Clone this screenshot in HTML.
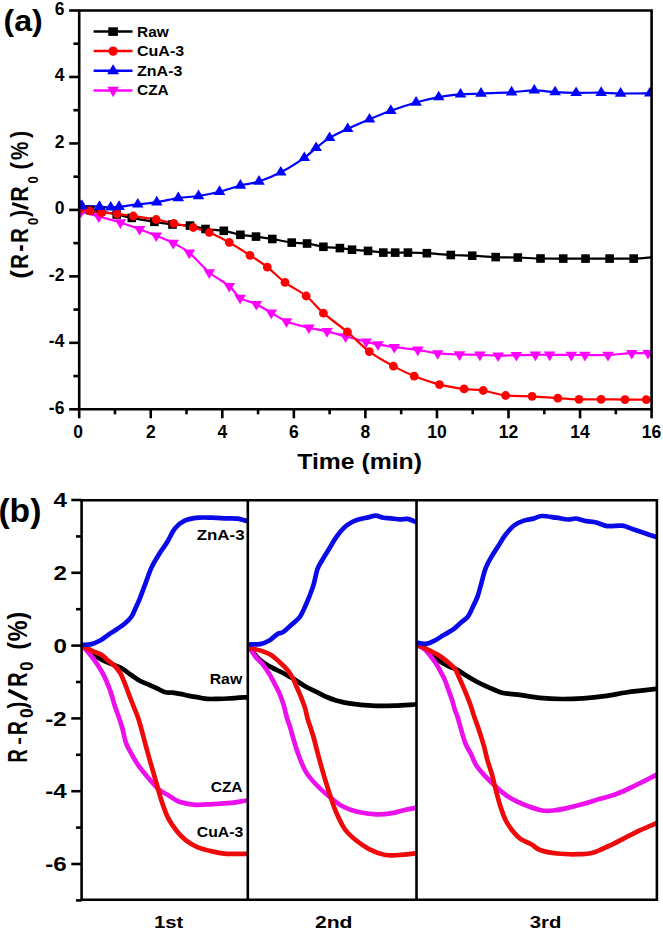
<!DOCTYPE html><html><head><meta charset="utf-8"><title>Sensor response</title><style>html,body{margin:0;padding:0;background:#fff;}body{width:663px;height:931px;overflow:hidden;font-family:"Liberation Sans",sans-serif;}svg{display:block;}</style></head><body>
<svg width="663" height="931" viewBox="0 0 663 931">
<rect width="663" height="931" fill="#fff"/>
<defs><clipPath id="ca"><rect x="79.2" y="2.5" width="572.4" height="406.8"/></clipPath>
<clipPath id="cb1"><rect x="81.6" y="500.3" width="166.2" height="399.5"/></clipPath>
<clipPath id="cb2"><rect x="247.8" y="500.3" width="168.7" height="399.5"/></clipPath>
<clipPath id="cb3"><rect x="416.5" y="500.3" width="240.4" height="399.5"/></clipPath></defs>
<g clip-path="url(#ca)" fill="none" stroke-width="2.2" stroke-linejoin="round" stroke-linecap="round">
<path d="M80,209 C81.67,209.17 86.5,209.58 90,210 C93.5,210.42 96.55,210.75 101,211.5 C105.45,212.25 111.57,213.43 116.7,214.5 C121.83,215.57 125.52,216.68 131.8,217.9 C138.08,219.12 147.62,220.7 154.4,221.8 C161.18,222.9 166.57,223.87 172.5,224.5 C178.43,225.13 184.5,224.85 190,225.6 C195.5,226.35 199.87,228.13 205.5,229 C211.13,229.87 217.98,229.83 223.8,230.8 C229.62,231.77 235.03,233.83 240.4,234.8 C245.77,235.77 250.68,235.9 256,236.6 C261.32,237.3 266.35,238 272.3,239 C278.25,240 285.9,241.85 291.7,242.6 C297.5,243.35 301.82,242.8 307.1,243.5 C312.38,244.2 317.93,246.03 323.4,246.8 C328.87,247.57 335.13,247.62 339.9,248.1 C344.67,248.58 347.32,249.23 352,249.7 C356.68,250.17 362.78,250.42 368,250.9 C373.22,251.38 378.77,252.32 383.3,252.6 C387.83,252.88 391.1,252.6 395.2,252.6 C399.3,252.6 402.62,252.5 407.9,252.6 C413.18,252.7 419.75,252.8 426.9,253.2 C434.05,253.6 443.25,254.58 450.8,255 C458.35,255.42 464.72,255.35 472.2,255.7 C479.68,256.05 488.1,256.8 495.7,257.1 C503.3,257.4 510.33,257.27 517.8,257.5 C525.27,257.73 532.93,258.32 540.5,258.5 C548.07,258.68 555.7,258.58 563.2,258.6 C570.7,258.62 577.77,258.6 585.5,258.6 C593.23,258.6 601.57,258.6 609.6,258.6 C617.63,258.6 626.8,258.82 633.7,258.6 C640.6,258.38 648.12,257.52 651,257.3" stroke="#000"/>
<path d="M81,211.5 C83.97,212.33 92.23,214.67 98.8,216.5 C105.37,218.33 113.6,220.38 120.4,222.5 C127.2,224.62 133.63,227 139.6,229.2 C145.57,231.4 150.6,233.4 156.2,235.7 C161.8,238 167.68,240.15 173.2,243 C178.72,245.85 183.28,247.88 189.3,252.8 C195.32,257.72 202.63,266.95 209.3,272.5 C215.97,278.05 224.17,281.87 229.3,286.1 C234.43,290.33 235.58,294.88 240.1,297.9 C244.62,300.92 251.2,301.72 256.4,304.2 C261.6,306.68 266.28,309.93 271.3,312.8 C276.32,315.67 280.23,318.92 286.5,321.4 C292.77,323.88 302.15,326.05 308.9,327.7 C315.65,329.35 320.88,329.83 327,331.3 C333.12,332.77 339.07,334.77 345.6,336.5 C352.13,338.23 360.8,340.38 366.2,341.7 C371.6,343.02 373.32,343.5 378,344.4 C382.68,345.3 387.67,346.2 394.3,347.1 C400.93,348 410.57,348.75 417.8,349.8 C425.03,350.85 430.75,352.62 437.7,353.4 C444.65,354.18 452.47,354.27 459.5,354.5 C466.53,354.73 473.47,354.6 479.9,354.8 C486.33,355 492.02,355.63 498.1,355.7 C504.18,355.77 510.18,355.35 516.4,355.2 C522.62,355.05 529.87,354.87 535.4,354.8 C540.93,354.73 543.62,354.77 549.6,354.8 C555.58,354.83 565.42,354.97 571.3,355 C577.18,355.03 578.78,355 584.9,355 C591.02,355 600.18,355.3 608,355 C615.82,354.7 625.13,353.5 631.8,353.2 C638.47,352.9 645.3,353.2 648,353.2" stroke="#ff00ff"/>
<path d="M80.5,209 C82.05,209.3 86.3,210.2 89.8,210.8 C93.3,211.4 96.97,212.1 101.5,212.6 C106.03,213.1 111.72,213.23 117,213.8 C122.28,214.37 126.67,215.05 133.2,216 C139.73,216.95 149.43,218.27 156.2,219.5 C162.97,220.73 167.63,222.07 173.8,223.4 C179.97,224.73 187.28,225.98 193.2,227.5 C199.12,229.02 203.28,230 209.3,232.5 C215.32,235 222.52,238.7 229.3,242.5 C236.08,246.3 243.67,251.2 250,255.3 C256.33,259.4 261.47,262.58 267.3,267.1 C273.13,271.62 278.52,277.58 285,282.4 C291.48,287.22 299.8,290.87 306.2,296 C312.6,301.13 316.52,307.2 323.4,313.2 C330.28,319.2 339.85,325.6 347.5,332 C355.15,338.4 361.65,345.92 369.3,351.6 C376.95,357.28 385.92,362.02 393.4,366.1 C400.88,370.18 406.52,373.02 414.2,376.1 C421.88,379.18 431.18,382.47 439.5,384.6 C447.82,386.73 456.82,387.92 464.1,388.9 C471.38,389.88 476.28,389.4 483.2,390.5 C490.12,391.6 497.45,394.53 505.6,395.5 C513.75,396.47 523.4,395.85 532.1,396.3 C540.8,396.75 549.98,397.7 557.8,398.2 C565.62,398.7 571.78,399.12 579,399.3 C586.22,399.48 593.43,399.25 601.1,399.3 C608.77,399.35 617.47,399.55 625,399.6 C632.53,399.65 642.75,399.6 646.3,399.6" stroke="#ff0000"/>
<path d="M80.3,206.2 C80.58,206.13 78.8,205.72 82,205.8 C85.2,205.88 94.72,206.45 99.5,206.7 C104.28,206.95 107.43,207.3 110.7,207.3 C113.97,207.3 114.58,207.2 119.1,206.7 C123.62,206.2 131.52,205.05 137.8,204.3 C144.08,203.55 150.05,203.25 156.8,202.2 C163.55,201.15 171.35,199.03 178.3,198 C185.25,196.97 191.63,197.05 198.5,196 C205.37,194.95 212.52,193.45 219.5,191.7 C226.48,189.95 233.82,187.2 240.4,185.5 C246.98,183.8 252.27,183.7 259,181.5 C265.73,179.3 273.25,176.25 280.8,172.3 C288.35,168.35 298.42,161.87 304.3,157.8 C310.18,153.73 311.88,151.22 316.1,147.9 C320.32,144.58 324.33,141.07 329.6,137.9 C334.87,134.73 341.05,132 347.7,128.9 C354.35,125.8 362.32,122.33 369.5,119.3 C376.68,116.27 383.03,113.5 390.8,110.7 C398.57,107.9 408.12,104.77 416.1,102.5 C424.08,100.23 431.3,98.45 438.7,97.1 C446.1,95.75 453.45,95 460.5,94.4 C467.55,93.8 472.48,93.87 481,93.5 C489.52,93.13 502.72,92.72 511.6,92.2 C520.48,91.68 527.05,90.42 534.3,90.4 C541.55,90.38 548.13,91.7 555.1,92.1 C562.07,92.5 568.42,92.7 576.1,92.8 C583.78,92.9 593.78,92.58 601.2,92.7 C608.62,92.82 612.5,93.4 620.6,93.5 C628.7,93.6 644.93,93.33 649.8,93.3" stroke="#0000ff"/>
</g>
<g clip-path="url(#ca)">
<rect x="75.7" y="204.7" width="8.6" height="8.6" fill="#000"/><rect x="85.7" y="205.7" width="8.6" height="8.6" fill="#000"/><rect x="96.7" y="207.2" width="8.6" height="8.6" fill="#000"/><rect x="112.4" y="210.2" width="8.6" height="8.6" fill="#000"/><rect x="127.5" y="213.6" width="8.6" height="8.6" fill="#000"/><rect x="150.1" y="217.5" width="8.6" height="8.6" fill="#000"/><rect x="168.2" y="220.2" width="8.6" height="8.6" fill="#000"/><rect x="185.7" y="221.3" width="8.6" height="8.6" fill="#000"/><rect x="201.2" y="224.7" width="8.6" height="8.6" fill="#000"/><rect x="219.5" y="226.5" width="8.6" height="8.6" fill="#000"/><rect x="236.1" y="230.5" width="8.6" height="8.6" fill="#000"/><rect x="251.7" y="232.3" width="8.6" height="8.6" fill="#000"/><rect x="268" y="234.7" width="8.6" height="8.6" fill="#000"/><rect x="287.4" y="238.3" width="8.6" height="8.6" fill="#000"/><rect x="302.8" y="239.2" width="8.6" height="8.6" fill="#000"/><rect x="319.1" y="242.5" width="8.6" height="8.6" fill="#000"/><rect x="335.6" y="243.8" width="8.6" height="8.6" fill="#000"/><rect x="347.7" y="245.4" width="8.6" height="8.6" fill="#000"/><rect x="363.7" y="246.6" width="8.6" height="8.6" fill="#000"/><rect x="379" y="248.3" width="8.6" height="8.6" fill="#000"/><rect x="390.9" y="248.3" width="8.6" height="8.6" fill="#000"/><rect x="403.6" y="248.3" width="8.6" height="8.6" fill="#000"/><rect x="422.6" y="248.9" width="8.6" height="8.6" fill="#000"/><rect x="446.5" y="250.7" width="8.6" height="8.6" fill="#000"/><rect x="467.9" y="251.4" width="8.6" height="8.6" fill="#000"/><rect x="491.4" y="252.8" width="8.6" height="8.6" fill="#000"/><rect x="513.5" y="253.2" width="8.6" height="8.6" fill="#000"/><rect x="536.2" y="254.2" width="8.6" height="8.6" fill="#000"/><rect x="558.9" y="254.3" width="8.6" height="8.6" fill="#000"/><rect x="581.2" y="254.3" width="8.6" height="8.6" fill="#000"/><rect x="605.3" y="254.3" width="8.6" height="8.6" fill="#000"/><rect x="629.4" y="254.3" width="8.6" height="8.6" fill="#000"/>
<path d="M81,217.9 L86.8,208.3 L75.2,208.3 Z" fill="#ff00ff"/><path d="M98.8,222.9 L104.6,213.3 L93,213.3 Z" fill="#ff00ff"/><path d="M120.4,228.9 L126.2,219.3 L114.6,219.3 Z" fill="#ff00ff"/><path d="M139.6,235.6 L145.4,226 L133.8,226 Z" fill="#ff00ff"/><path d="M156.2,242.1 L162,232.5 L150.4,232.5 Z" fill="#ff00ff"/><path d="M173.2,249.4 L179,239.8 L167.4,239.8 Z" fill="#ff00ff"/><path d="M189.3,259.2 L195.1,249.6 L183.5,249.6 Z" fill="#ff00ff"/><path d="M209.3,278.9 L215.1,269.3 L203.5,269.3 Z" fill="#ff00ff"/><path d="M229.3,292.5 L235.1,282.9 L223.5,282.9 Z" fill="#ff00ff"/><path d="M240.1,304.3 L245.9,294.7 L234.3,294.7 Z" fill="#ff00ff"/><path d="M256.4,310.6 L262.2,301 L250.6,301 Z" fill="#ff00ff"/><path d="M271.3,319.2 L277.1,309.6 L265.5,309.6 Z" fill="#ff00ff"/><path d="M286.5,327.8 L292.3,318.2 L280.7,318.2 Z" fill="#ff00ff"/><path d="M308.9,334.1 L314.7,324.5 L303.1,324.5 Z" fill="#ff00ff"/><path d="M327,337.7 L332.8,328.1 L321.2,328.1 Z" fill="#ff00ff"/><path d="M345.6,342.9 L351.4,333.3 L339.8,333.3 Z" fill="#ff00ff"/><path d="M366.2,348.1 L372,338.5 L360.4,338.5 Z" fill="#ff00ff"/><path d="M378,350.8 L383.8,341.2 L372.2,341.2 Z" fill="#ff00ff"/><path d="M394.3,353.5 L400.1,343.9 L388.5,343.9 Z" fill="#ff00ff"/><path d="M417.8,356.2 L423.6,346.6 L412,346.6 Z" fill="#ff00ff"/><path d="M437.7,359.8 L443.5,350.2 L431.9,350.2 Z" fill="#ff00ff"/><path d="M459.5,360.9 L465.3,351.3 L453.7,351.3 Z" fill="#ff00ff"/><path d="M479.9,361.2 L485.7,351.6 L474.1,351.6 Z" fill="#ff00ff"/><path d="M498.1,362.1 L503.9,352.5 L492.3,352.5 Z" fill="#ff00ff"/><path d="M516.4,361.6 L522.2,352 L510.6,352 Z" fill="#ff00ff"/><path d="M535.4,361.2 L541.2,351.6 L529.6,351.6 Z" fill="#ff00ff"/><path d="M549.6,361.2 L555.4,351.6 L543.8,351.6 Z" fill="#ff00ff"/><path d="M571.3,361.4 L577.1,351.8 L565.5,351.8 Z" fill="#ff00ff"/><path d="M584.9,361.4 L590.7,351.8 L579.1,351.8 Z" fill="#ff00ff"/><path d="M608,361.4 L613.8,351.8 L602.2,351.8 Z" fill="#ff00ff"/><path d="M631.8,359.6 L637.6,350 L626,350 Z" fill="#ff00ff"/><path d="M648,359.6 L653.8,350 L642.2,350 Z" fill="#ff00ff"/>
<circle cx="80.5" cy="209" r="4.4" fill="#ff0000"/><circle cx="89.8" cy="210.8" r="4.4" fill="#ff0000"/><circle cx="101.5" cy="212.6" r="4.4" fill="#ff0000"/><circle cx="117" cy="213.8" r="4.4" fill="#ff0000"/><circle cx="133.2" cy="216" r="4.4" fill="#ff0000"/><circle cx="156.2" cy="219.5" r="4.4" fill="#ff0000"/><circle cx="173.8" cy="223.4" r="4.4" fill="#ff0000"/><circle cx="193.2" cy="227.5" r="4.4" fill="#ff0000"/><circle cx="209.3" cy="232.5" r="4.4" fill="#ff0000"/><circle cx="229.3" cy="242.5" r="4.4" fill="#ff0000"/><circle cx="250" cy="255.3" r="4.4" fill="#ff0000"/><circle cx="267.3" cy="267.1" r="4.4" fill="#ff0000"/><circle cx="285" cy="282.4" r="4.4" fill="#ff0000"/><circle cx="306.2" cy="296" r="4.4" fill="#ff0000"/><circle cx="323.4" cy="313.2" r="4.4" fill="#ff0000"/><circle cx="347.5" cy="332" r="4.4" fill="#ff0000"/><circle cx="369.3" cy="351.6" r="4.4" fill="#ff0000"/><circle cx="393.4" cy="366.1" r="4.4" fill="#ff0000"/><circle cx="414.2" cy="376.1" r="4.4" fill="#ff0000"/><circle cx="439.5" cy="384.6" r="4.4" fill="#ff0000"/><circle cx="464.1" cy="388.9" r="4.4" fill="#ff0000"/><circle cx="483.2" cy="390.5" r="4.4" fill="#ff0000"/><circle cx="505.6" cy="395.5" r="4.4" fill="#ff0000"/><circle cx="532.1" cy="396.3" r="4.4" fill="#ff0000"/><circle cx="557.8" cy="398.2" r="4.4" fill="#ff0000"/><circle cx="579" cy="399.3" r="4.4" fill="#ff0000"/><circle cx="601.1" cy="399.3" r="4.4" fill="#ff0000"/><circle cx="625" cy="399.6" r="4.4" fill="#ff0000"/><circle cx="646.3" cy="399.6" r="4.4" fill="#ff0000"/>
<path d="M80.3,199.8 L86.1,209.4 L74.5,209.4 Z" fill="#0000ff"/><path d="M82,199.4 L87.8,209 L76.2,209 Z" fill="#0000ff"/><path d="M99.5,200.3 L105.3,209.9 L93.7,209.9 Z" fill="#0000ff"/><path d="M110.7,200.9 L116.5,210.5 L104.9,210.5 Z" fill="#0000ff"/><path d="M119.1,200.3 L124.9,209.9 L113.3,209.9 Z" fill="#0000ff"/><path d="M137.8,197.9 L143.6,207.5 L132,207.5 Z" fill="#0000ff"/><path d="M156.8,195.8 L162.6,205.4 L151,205.4 Z" fill="#0000ff"/><path d="M178.3,191.6 L184.1,201.2 L172.5,201.2 Z" fill="#0000ff"/><path d="M198.5,189.6 L204.3,199.2 L192.7,199.2 Z" fill="#0000ff"/><path d="M219.5,185.3 L225.3,194.9 L213.7,194.9 Z" fill="#0000ff"/><path d="M240.4,179.1 L246.2,188.7 L234.6,188.7 Z" fill="#0000ff"/><path d="M259,175.1 L264.8,184.7 L253.2,184.7 Z" fill="#0000ff"/><path d="M280.8,165.9 L286.6,175.5 L275,175.5 Z" fill="#0000ff"/><path d="M304.3,151.4 L310.1,161 L298.5,161 Z" fill="#0000ff"/><path d="M316.1,141.5 L321.9,151.1 L310.3,151.1 Z" fill="#0000ff"/><path d="M329.6,131.5 L335.4,141.1 L323.8,141.1 Z" fill="#0000ff"/><path d="M347.7,122.5 L353.5,132.1 L341.9,132.1 Z" fill="#0000ff"/><path d="M369.5,112.9 L375.3,122.5 L363.7,122.5 Z" fill="#0000ff"/><path d="M390.8,104.3 L396.6,113.9 L385,113.9 Z" fill="#0000ff"/><path d="M416.1,96.1 L421.9,105.7 L410.3,105.7 Z" fill="#0000ff"/><path d="M438.7,90.7 L444.5,100.3 L432.9,100.3 Z" fill="#0000ff"/><path d="M460.5,88 L466.3,97.6 L454.7,97.6 Z" fill="#0000ff"/><path d="M481,87.1 L486.8,96.7 L475.2,96.7 Z" fill="#0000ff"/><path d="M511.6,85.8 L517.4,95.4 L505.8,95.4 Z" fill="#0000ff"/><path d="M534.3,84 L540.1,93.6 L528.5,93.6 Z" fill="#0000ff"/><path d="M555.1,85.7 L560.9,95.3 L549.3,95.3 Z" fill="#0000ff"/><path d="M576.1,86.4 L581.9,96 L570.3,96 Z" fill="#0000ff"/><path d="M601.2,86.3 L607,95.9 L595.4,95.9 Z" fill="#0000ff"/><path d="M620.6,87.1 L626.4,96.7 L614.8,96.7 Z" fill="#0000ff"/><path d="M649.8,86.9 L655.6,96.5 L644,96.5 Z" fill="#0000ff"/>
</g>
<g stroke="#000" stroke-width="2.6" fill="none" stroke-linecap="butt">
<path d="M79.2,10.5 H651.6 V409.3 H79.2 Z"/>
<path d="M69.2,409.3 H79.2"/>
<path d="M73.4,376.07 H79.2"/>
<path d="M69.2,342.83 H79.2"/>
<path d="M73.4,309.6 H79.2"/>
<path d="M69.2,276.37 H79.2"/>
<path d="M73.4,243.13 H79.2"/>
<path d="M69.2,209.9 H79.2"/>
<path d="M73.4,176.67 H79.2"/>
<path d="M69.2,143.43 H79.2"/>
<path d="M73.4,110.2 H79.2"/>
<path d="M69.2,76.97 H79.2"/>
<path d="M73.4,43.73 H79.2"/>
<path d="M69.2,10.5 H79.2"/>
<path d="M79.2,409.3 V418.3"/>
<path d="M114.97,409.3 V414.3"/>
<path d="M150.75,409.3 V418.3"/>
<path d="M186.52,409.3 V414.3"/>
<path d="M222.3,409.3 V418.3"/>
<path d="M258.07,409.3 V414.3"/>
<path d="M293.85,409.3 V418.3"/>
<path d="M329.62,409.3 V414.3"/>
<path d="M365.4,409.3 V418.3"/>
<path d="M401.17,409.3 V414.3"/>
<path d="M436.95,409.3 V418.3"/>
<path d="M472.72,409.3 V414.3"/>
<path d="M508.5,409.3 V418.3"/>
<path d="M544.27,409.3 V414.3"/>
<path d="M580.05,409.3 V418.3"/>
<path d="M615.83,409.3 V414.3"/>
<path d="M651.6,409.3 V418.3"/>
</g>
<text transform="translate(64.4 413.5)" font-size="17.5" text-anchor="end" fill="#000" font-family="Liberation Sans, sans-serif" font-weight="bold">-6</text>
<text transform="translate(64.4 347.03)" font-size="17.5" text-anchor="end" fill="#000" font-family="Liberation Sans, sans-serif" font-weight="bold">-4</text>
<text transform="translate(64.4 280.57)" font-size="17.5" text-anchor="end" fill="#000" font-family="Liberation Sans, sans-serif" font-weight="bold">-2</text>
<text transform="translate(64.4 214.1)" font-size="17.5" text-anchor="end" fill="#000" font-family="Liberation Sans, sans-serif" font-weight="bold">0</text>
<text transform="translate(64.4 147.63)" font-size="17.5" text-anchor="end" fill="#000" font-family="Liberation Sans, sans-serif" font-weight="bold">2</text>
<text transform="translate(64.4 81.17)" font-size="17.5" text-anchor="end" fill="#000" font-family="Liberation Sans, sans-serif" font-weight="bold">4</text>
<text transform="translate(64.4 14.7)" font-size="17.5" text-anchor="end" fill="#000" font-family="Liberation Sans, sans-serif" font-weight="bold">6</text>
<text transform="translate(78 437.6)" font-size="17.5" text-anchor="middle" fill="#000" font-family="Liberation Sans, sans-serif" font-weight="bold">0</text>
<text transform="translate(150.75 437.6)" font-size="17.5" text-anchor="middle" fill="#000" font-family="Liberation Sans, sans-serif" font-weight="bold">2</text>
<text transform="translate(222.3 437.6)" font-size="17.5" text-anchor="middle" fill="#000" font-family="Liberation Sans, sans-serif" font-weight="bold">4</text>
<text transform="translate(293.85 437.6)" font-size="17.5" text-anchor="middle" fill="#000" font-family="Liberation Sans, sans-serif" font-weight="bold">6</text>
<text transform="translate(365.4 437.6)" font-size="17.5" text-anchor="middle" fill="#000" font-family="Liberation Sans, sans-serif" font-weight="bold">8</text>
<text transform="translate(436.95 437.6)" font-size="17.5" text-anchor="middle" fill="#000" font-family="Liberation Sans, sans-serif" font-weight="bold">10</text>
<text transform="translate(508.5 437.6)" font-size="17.5" text-anchor="middle" fill="#000" font-family="Liberation Sans, sans-serif" font-weight="bold">12</text>
<text transform="translate(580.05 437.6)" font-size="17.5" text-anchor="middle" fill="#000" font-family="Liberation Sans, sans-serif" font-weight="bold">14</text>
<text transform="translate(651.6 437.6)" font-size="17.5" text-anchor="middle" fill="#000" font-family="Liberation Sans, sans-serif" font-weight="bold">16</text>
<text transform="translate(359.6 469.2) scale(1.1 1)" font-size="22.5" text-anchor="middle" fill="#000" font-family="Liberation Sans, sans-serif" font-weight="bold">Time (min)</text>
<text transform="translate(0 277.5) rotate(-90) translate(-1.31 27.7) scale(0.2624 0.2358)" font-size="100" font-family="Liberation Sans, sans-serif" font-weight="bold">(</text><text transform="translate(0 277.5) rotate(-90) translate(8.84 28.1) scale(0.2035 0.2340)" font-size="100" font-family="Liberation Sans, sans-serif" font-weight="bold">R</text><text transform="translate(0 277.5) rotate(-90) translate(25.64 28.24) scale(0.2205 0.2521)" font-size="100" font-family="Liberation Sans, sans-serif" font-weight="bold">-</text><text transform="translate(0 277.5) rotate(-90) translate(34.74 28.1) scale(0.2035 0.2340)" font-size="100" font-family="Liberation Sans, sans-serif" font-weight="bold">R</text><text transform="translate(0 277.5) rotate(-90) translate(52.48 38.35) scale(0.1305 0.1540)" font-size="100" font-family="Liberation Sans, sans-serif" font-weight="bold">0</text><text transform="translate(0 277.5) rotate(-90) translate(60.48 27.7) scale(0.2128 0.2358)" font-size="100" font-family="Liberation Sans, sans-serif" font-weight="bold">)</text><text transform="translate(0 277.5) rotate(-90) translate(75.77 28.1) scale(0.2129 0.2340)" font-size="100" font-family="Liberation Sans, sans-serif" font-weight="bold">R</text><text transform="translate(0 277.5) rotate(-90) translate(93.97 38.35) scale(0.1326 0.1540)" font-size="100" font-family="Liberation Sans, sans-serif" font-weight="bold">0</text><text transform="translate(0 277.5) rotate(-90) translate(107.85 27.7) scale(0.2305 0.2358)" font-size="100" font-family="Liberation Sans, sans-serif" font-weight="bold">(</text><text transform="translate(0 277.5) rotate(-90) translate(117.38 28.2) scale(0.2064 0.2443)" font-size="100" font-family="Liberation Sans, sans-serif" font-weight="bold">%</text><text transform="translate(0 277.5) rotate(-90) translate(139.58 27.7) scale(0.2163 0.2358)" font-size="100" font-family="Liberation Sans, sans-serif" font-weight="bold">)</text>
<text transform="translate(3.6 31.4) scale(1.07 1)" font-size="30" text-anchor="start" fill="#000" font-family="Liberation Sans, sans-serif" font-weight="bold">(a)</text>
<path d="M93.6,31.6 H132.5" stroke="#000" stroke-width="2.5"/>
<rect x="108.3" y="27.3" width="9.6" height="8.6" fill="#000"/>
<text transform="translate(137 36.5) scale(1.03 1)" font-size="15" text-anchor="start" fill="#000" font-family="Liberation Sans, sans-serif" font-weight="bold">Raw</text>
<path d="M93.6,51.1 H132.5" stroke="#ff0000" stroke-width="2.5"/>
<circle cx="113.1" cy="51.1" r="4.7" fill="#ff0000"/>
<text transform="translate(137 56) scale(1.07 1)" font-size="15" text-anchor="start" fill="#000" font-family="Liberation Sans, sans-serif" font-weight="bold">CuA-3</text>
<path d="M93.6,70.8 H132.5" stroke="#0000ff" stroke-width="2.5"/>
<path d="M113.1,64.2 L119.1,74.2 L107.1,74.2 Z" fill="#0000ff"/>
<text transform="translate(137 75.7) scale(1.07 1)" font-size="15" text-anchor="start" fill="#000" font-family="Liberation Sans, sans-serif" font-weight="bold">ZnA-3</text>
<path d="M93.6,90.4 H132.5" stroke="#ff00ff" stroke-width="2.5"/>
<path d="M113.1,97.2 L118.9,86.8 L107.3,86.8 Z" fill="#ff00ff"/>
<text transform="translate(137 95.3) scale(1.03 1)" font-size="15" text-anchor="start" fill="#000" font-family="Liberation Sans, sans-serif" font-weight="bold">CZA</text>
<g clip-path="url(#cb1)" fill="none" stroke-width="4.7" stroke-linejoin="round" stroke-linecap="round">
<path d="M81.5,645.5 C81.93,645.72 82.08,645.23 84.1,646.8 C86.12,648.37 90.43,652.63 93.6,654.9 C96.77,657.17 99.93,658.82 103.1,660.4 C106.27,661.98 109.43,663.05 112.6,664.4 C115.77,665.75 118.93,666.68 122.1,668.5 C125.27,670.32 128.67,673.27 131.6,675.3 C134.53,677.33 136.77,679.12 139.7,680.7 C142.63,682.28 146.23,683.47 149.2,684.8 C152.17,686.13 154.85,687.47 157.5,688.7 C160.15,689.93 162.58,691.55 165.1,692.2 C167.62,692.85 170.08,692.32 172.6,692.6 C175.12,692.88 177.43,693.35 180.2,693.9 C182.97,694.45 186.18,695.32 189.2,695.9 C192.22,696.48 195.28,696.9 198.3,697.4 C201.32,697.9 204.03,698.65 207.3,698.9 C210.57,699.15 214.38,698.97 217.9,698.9 C221.42,698.83 224.88,698.7 228.4,698.5 C231.92,698.3 236.1,697.88 239,697.7 C241.9,697.52 243.97,697.48 245.8,697.4 C247.63,697.32 249.3,697.23 250,697.2" stroke="#000"/>
<path d="M81.5,645.5 C81.7,645.6 81.6,644.98 82.7,646.1 C83.8,647.22 86.28,650.05 88.1,652.2 C89.92,654.35 91.78,656.52 93.6,659 C95.42,661.48 97.2,664.17 99,667.1 C100.8,670.03 102.82,673.42 104.4,676.6 C105.98,679.78 107.25,683.02 108.5,686.2 C109.75,689.38 110.88,692.53 111.9,695.7 C112.92,698.87 113.58,701.98 114.6,705.2 C115.62,708.42 116.72,711.2 118,715 C119.28,718.8 120.97,723.33 122.3,728 C123.63,732.67 124.43,738.62 126,743 C127.57,747.38 129.62,750.53 131.7,754.3 C133.78,758.07 135.87,761.83 138.5,765.6 C141.13,769.37 144.12,772.93 147.5,776.9 C150.88,780.87 155.4,786.38 158.8,789.4 C162.2,792.42 164.5,792.93 167.9,795 C171.3,797.07 174.68,800.17 179.2,801.8 C183.72,803.43 189.35,804.42 195,804.8 C200.65,805.18 207.07,804.42 213.1,804.1 C219.13,803.78 225.92,803.47 231.2,802.9 C236.48,802.33 241.67,801.18 244.8,800.7 C247.93,800.22 249.13,800.12 250,800" stroke="#ec10ec"/>
<path d="M81.5,645.5 C81.93,645.72 82.32,645.9 84.1,646.8 C85.88,647.7 89.27,649.55 92.2,650.9 C95.13,652.25 99.22,653.43 101.7,654.9 C104.18,656.37 104.83,657.77 107.1,659.7 C109.37,661.63 113.03,664.13 115.3,666.5 C117.57,668.87 119.12,671.08 120.7,673.9 C122.28,676.72 123.43,680 124.8,683.4 C126.17,686.8 127.43,690.45 128.9,694.3 C130.37,698.15 132.02,702.43 133.6,706.5 C135.18,710.57 136.83,713.95 138.4,718.7 C139.97,723.45 141.48,729.45 143,735 C144.52,740.55 146,746.52 147.5,752 C149,757.48 150.48,762.62 152,767.9 C153.52,773.18 155.08,778.43 156.6,783.7 C158.12,788.97 159.22,793.85 161.1,799.5 C162.98,805.15 165.27,812.32 167.9,817.6 C170.53,822.88 173.88,827.42 176.9,831.2 C179.92,834.98 182.6,837.65 186,840.3 C189.4,842.95 192.78,845.22 197.3,847.1 C201.82,848.98 208.2,850.48 213.1,851.6 C218,852.72 221.42,853.43 226.7,853.8 C231.98,854.17 240.92,853.8 244.8,853.8 C248.68,853.8 249.13,853.8 250,853.8" stroke="#ee0a0a"/>
<path d="M81.5,644.8 C83.17,644.68 88.32,644.85 91.5,644.1 C94.68,643.35 97.83,641.82 100.6,640.3 C103.37,638.78 105.35,636.88 108.1,635 C110.85,633.12 114.35,630.87 117.1,629 C119.85,627.13 122.18,625.88 124.6,623.8 C127.02,621.72 129.72,619.27 131.6,616.5 C133.48,613.73 134.57,610.1 135.9,607.2 C137.23,604.3 138,603.07 139.6,599.1 C141.2,595.13 143.53,588.63 145.5,583.4 C147.47,578.17 149.12,572.6 151.4,567.7 C153.68,562.8 156.58,558.23 159.2,554 C161.82,549.77 164.48,546.55 167.1,542.3 C169.72,538.05 171.97,532.1 174.9,528.5 C177.83,524.9 180.78,522.5 184.7,520.7 C188.62,518.9 193.82,518.2 198.4,517.7 C202.98,517.2 207.62,517.6 212.2,517.7 C216.78,517.8 221.67,518.13 225.9,518.3 C230.13,518.47 234.33,518.32 237.6,518.7 C240.87,519.08 243.43,520.12 245.5,520.6 C247.57,521.08 249.25,521.43 250,521.6" stroke="#0a0ae8"/>
</g>
<g clip-path="url(#cb2)" fill="none" stroke-width="4.7" stroke-linejoin="round" stroke-linecap="round">
<path d="M247,647.5 C247.62,647.83 248.72,647.58 250.7,649.5 C252.68,651.42 255.95,656.28 258.9,659 C261.85,661.72 265.23,663.88 268.4,665.8 C271.57,667.72 274.97,669.03 277.9,670.5 C280.83,671.97 283.07,673.02 286,674.6 C288.93,676.18 292.33,678.07 295.5,680 C298.67,681.93 301.6,684.27 305,686.2 C308.4,688.13 312.28,689.8 315.9,691.6 C319.52,693.4 323.32,695.53 326.7,697 C330.08,698.47 332.45,699.33 336.2,700.4 C339.95,701.47 343.27,702.52 349.2,703.4 C355.13,704.28 364.27,705.32 371.8,705.7 C379.33,706.08 387.23,705.9 394.4,705.7 C401.57,705.5 410.7,704.73 414.8,704.5 C418.9,704.27 418.3,704.33 419,704.3" stroke="#000"/>
<path d="M247,648 C247.62,648.25 249.18,647.9 250.7,649.5 C252.22,651.1 254.07,655.12 256.1,657.6 C258.13,660.08 260.85,661.9 262.9,664.4 C264.95,666.9 266.58,669.65 268.4,672.6 C270.22,675.55 272,678.72 273.8,682.1 C275.6,685.48 277.62,689.28 279.2,692.9 C280.78,696.52 282,699.62 283.3,703.8 C284.6,707.98 285.87,714.13 287,718 C288.13,721.87 289.17,724 290.1,727 C291.03,730 291.23,731.45 292.6,736 C293.97,740.55 296.03,748.23 298.3,754.3 C300.57,760.37 303,767.12 306.2,772.4 C309.4,777.68 313.73,782.03 317.5,786 C321.27,789.97 324.65,792.82 328.8,796.2 C332.95,799.58 337.5,803.67 342.4,806.3 C347.3,808.93 352.55,810.67 358.2,812 C363.85,813.33 370.63,814.12 376.3,814.3 C381.97,814.48 387.3,813.87 392.2,813.1 C397.1,812.33 401.93,810.53 405.7,809.7 C409.47,808.87 412.58,808.47 414.8,808.1 C417.02,807.73 418.3,807.6 419,807.5" stroke="#ec10ec"/>
<path d="M247,647.5 C248.07,647.72 250.97,648.23 253.4,648.8 C255.83,649.37 258.65,649.88 261.6,650.9 C264.55,651.92 268.17,653.1 271.1,654.9 C274.03,656.7 276.48,659.2 279.2,661.7 C281.92,664.2 285.13,667.18 287.4,669.9 C289.67,672.62 291.22,675.07 292.8,678 C294.38,680.93 295.53,684.33 296.9,687.5 C298.27,690.67 299.65,693.6 301,697 C302.35,700.4 303.88,704.23 305,707.9 C306.12,711.57 306.7,715.48 307.7,719 C308.7,722.52 310.03,726 311,729 C311.97,732 312.23,732.4 313.5,737 C314.77,741.6 316.8,749.95 318.6,756.6 C320.4,763.25 322.4,770.5 324.3,776.9 C326.2,783.3 328.12,789.33 330,795 C331.88,800.67 333.15,805.23 335.6,810.9 C338.05,816.57 341.3,824.1 344.7,829 C348.1,833.9 351.87,836.92 356,840.3 C360.13,843.68 364.6,846.85 369.5,849.3 C374.4,851.75 380.48,854.05 385.4,855 C390.32,855.95 394.1,855.27 399,855 C403.9,854.73 411.47,853.73 414.8,853.4 C418.13,853.07 418.3,853.07 419,853" stroke="#ee0a0a"/>
<path d="M247,644.6 C247.35,644.57 246.93,644.48 249.1,644.4 C251.27,644.32 256.62,644.75 260,644.1 C263.38,643.45 266.55,642.15 269.4,640.5 C272.25,638.85 274.77,635.63 277.1,634.2 C279.43,632.77 281.05,633.45 283.4,631.9 C285.75,630.35 288.48,627.37 291.2,624.9 C293.92,622.43 297.37,620.22 299.7,617.1 C302.03,613.98 303.52,609.83 305.2,606.2 C306.88,602.57 308.38,598.93 309.8,595.3 C311.22,591.67 312.43,588.75 313.7,584.4 C314.97,580.05 316.02,573.18 317.4,569.2 C318.78,565.22 320.07,563.87 322,560.5 C323.93,557.13 326.57,552.97 329,549 C331.43,545.03 334.08,540.27 336.6,536.7 C339.12,533.13 341.58,530 344.1,527.6 C346.62,525.2 349.18,523.68 351.7,522.3 C354.22,520.92 356.43,520.12 359.2,519.3 C361.97,518.48 365.53,518.02 368.3,517.4 C371.07,516.78 373.3,515.53 375.8,515.6 C378.3,515.67 380.78,517.35 383.3,517.8 C385.82,518.25 388.13,518.05 390.9,518.3 C393.67,518.55 397.13,519.2 399.9,519.3 C402.67,519.4 405.1,518.57 407.5,518.9 C409.9,519.23 412.38,520.62 414.3,521.3 C416.22,521.98 418.22,522.72 419,523" stroke="#0a0ae8"/>
</g>
<g clip-path="url(#cb3)" fill="none" stroke-width="4.7" stroke-linejoin="round" stroke-linecap="round">
<path d="M416,645 C417.02,645.32 419.72,645.47 422.1,646.9 C424.48,648.33 427.58,651.35 430.3,653.6 C433.02,655.85 435.47,658.35 438.4,660.4 C441.33,662.45 444.73,664.32 447.9,665.9 C451.07,667.48 454.23,668.22 457.4,669.9 C460.57,671.58 463.73,674.07 466.9,676 C470.07,677.93 473.23,679.8 476.4,681.5 C479.57,683.2 482.73,684.73 485.9,686.2 C489.07,687.67 492.57,689.17 495.4,690.3 C498.23,691.43 499.13,692.28 502.9,693 C506.67,693.72 511.82,693.78 518,694.6 C524.18,695.42 532.75,697.17 540,697.9 C547.25,698.63 554.35,698.93 561.5,699 C568.65,699.07 575.75,698.77 582.9,698.3 C590.05,697.83 597.23,697.17 604.4,696.2 C611.57,695.23 619.47,693.47 625.9,692.5 C632.33,691.53 638,691 643,690.4 C648,689.8 653.07,689.22 655.9,688.9 C658.73,688.58 659.32,688.57 660,688.5" stroke="#000"/>
<path d="M416,645 C416.57,645.2 417.92,645.43 419.4,646.2 C420.88,646.97 423.08,648.02 424.9,649.6 C426.72,651.18 428.5,653.45 430.3,655.7 C432.1,657.95 433.9,660.28 435.7,663.1 C437.5,665.92 439.52,669.65 441.1,672.6 C442.68,675.55 443.95,677.85 445.2,680.8 C446.45,683.75 447.47,687.13 448.6,690.3 C449.73,693.47 450.98,696.63 452,699.8 C453.02,702.97 453.77,706.43 454.7,709.3 C455.63,712.17 456.55,713.68 457.6,717 C458.65,720.32 459.67,724.73 461,729.2 C462.33,733.67 463.93,739.67 465.6,743.8 C467.27,747.93 469.18,750.33 471,754 C472.82,757.67 474.05,762.02 476.5,765.8 C478.95,769.58 482.65,773.37 485.7,776.7 C488.75,780.03 491.45,782.75 494.8,785.8 C498.15,788.85 502.15,792.4 505.8,795 C509.45,797.6 512.75,799.43 516.7,801.4 C520.65,803.37 525.23,805.28 529.5,806.8 C533.77,808.32 538.35,809.88 542.3,810.5 C546.25,811.12 549.28,810.85 553.2,810.5 C557.12,810.15 560.85,809.47 565.8,808.4 C570.75,807.33 577.18,805.7 582.9,804.1 C588.62,802.5 594.73,800.4 600.1,798.8 C605.47,797.2 610.1,796.3 615.1,794.5 C620.1,792.7 625.45,790.15 630.1,788 C634.75,785.85 638.7,783.73 643,781.6 C647.3,779.47 653.07,776.6 655.9,775.2 C658.73,773.8 659.32,773.53 660,773.2" stroke="#ec10ec"/>
<path d="M416,645 C417.02,645.32 419.72,645.92 422.1,646.9 C424.48,647.88 427.58,649.55 430.3,650.9 C433.02,652.25 435.68,653.3 438.4,655 C441.12,656.7 443.88,658.83 446.6,661.1 C449.32,663.37 452.67,666 454.7,668.6 C456.73,671.2 457.43,673.77 458.8,676.7 C460.17,679.63 461.55,683.03 462.9,686.2 C464.25,689.37 465.55,692.3 466.9,695.7 C468.25,699.1 469.82,703.22 471,706.6 C472.18,709.98 472.62,711.93 474,716 C475.38,720.07 477.67,726.05 479.3,731 C480.93,735.95 482.43,740.82 483.8,745.7 C485.17,750.58 486.12,755.43 487.5,760.3 C488.88,765.17 490.73,770.03 492.1,774.9 C493.47,779.77 494.33,784.33 495.7,789.5 C497.07,794.67 498.62,800.73 500.3,805.9 C501.98,811.07 503.67,816.23 505.8,820.5 C507.93,824.77 510.67,828.45 513.1,831.5 C515.53,834.55 517.37,836.67 520.4,838.8 C523.43,840.93 528.03,842.43 531.3,844.3 C534.57,846.17 535.68,848.47 540,850 C544.32,851.53 550.77,852.8 557.2,853.5 C563.63,854.2 572.52,854.38 578.6,854.2 C584.68,854.02 588.68,853.77 593.7,852.4 C598.72,851.03 603.33,848.5 608.7,846 C614.07,843.5 620.53,840.08 625.9,837.4 C631.27,834.72 635.9,832.22 640.9,829.9 C645.9,827.58 652.72,824.85 655.9,823.5 C659.08,822.15 659.32,822.08 660,821.8" stroke="#ee0a0a"/>
<path d="M416,643 C416.35,642.98 416.4,642.77 418.1,642.9 C419.8,643.03 423.62,644.08 426.2,643.8 C428.78,643.52 430.73,642.62 433.6,641.2 C436.47,639.78 440.13,637.27 443.4,635.3 C446.67,633.33 450.27,631.53 453.2,629.4 C456.13,627.27 458.55,624.62 461,622.5 C463.45,620.38 465.93,619.3 467.9,616.7 C469.87,614.1 471.17,610.33 472.8,606.9 C474.43,603.47 476.23,600.18 477.7,596.1 C479.17,592.02 480.3,586.98 481.6,582.4 C482.9,577.82 483.87,572.85 485.5,568.6 C487.13,564.35 489.27,560.65 491.4,556.9 C493.53,553.15 496.02,549.7 498.3,546.1 C500.58,542.5 502.48,538.73 505.1,535.3 C507.72,531.87 510.88,527.95 514,525.5 C517.12,523.05 520.53,521.75 523.8,520.6 C527.07,519.45 530.57,519.37 533.6,518.6 C536.63,517.83 538.25,516.15 542,516 C545.75,515.85 551.75,517.12 556.1,517.7 C560.45,518.28 564.77,519.37 568.1,519.5 C571.43,519.63 573.08,518.23 576.1,518.5 C579.12,518.77 582.85,520.43 586.2,521.1 C589.55,521.77 592.7,521.67 596.2,522.5 C599.7,523.33 602.85,525.57 607.2,526.1 C611.55,526.63 618.12,525.2 622.3,525.7 C626.48,526.2 628.63,527.87 632.3,529.1 C635.97,530.33 640.02,531.68 644.3,533.1 C648.58,534.52 655.72,536.85 658,537.6" stroke="#0a0ae8"/>
</g>
<g stroke="#000" stroke-width="2.6" fill="none">
<path d="M81.6,500.3 H656.9 V899.8 H81.6 Z"/>
<path d="M247.8,500.3 V899.8 M416.5,500.3 V899.8"/>
<path d="M76,900.4 H81.6"/>
<path d="M71.3,864 H81.6"/>
<path d="M76,827.6 H81.6"/>
<path d="M71.3,791.2 H81.6"/>
<path d="M76,754.8 H81.6"/>
<path d="M71.3,718.4 H81.6"/>
<path d="M76,682 H81.6"/>
<path d="M71.3,645.6 H81.6"/>
<path d="M76,609.2 H81.6"/>
<path d="M71.3,572.8 H81.6"/>
<path d="M76,536.4 H81.6"/>
<path d="M71.3,500 H81.6"/>
</g>
<text transform="translate(66.8 871.2) scale(1.15 1)" font-size="21" text-anchor="end" fill="#000" font-family="Liberation Sans, sans-serif" font-weight="bold">-6</text>
<text transform="translate(66.8 798.4) scale(1.15 1)" font-size="21" text-anchor="end" fill="#000" font-family="Liberation Sans, sans-serif" font-weight="bold">-4</text>
<text transform="translate(66.8 725.6) scale(1.15 1)" font-size="21" text-anchor="end" fill="#000" font-family="Liberation Sans, sans-serif" font-weight="bold">-2</text>
<text transform="translate(66.8 652.8) scale(1.15 1)" font-size="21" text-anchor="end" fill="#000" font-family="Liberation Sans, sans-serif" font-weight="bold">0</text>
<text transform="translate(66.8 580) scale(1.15 1)" font-size="21" text-anchor="end" fill="#000" font-family="Liberation Sans, sans-serif" font-weight="bold">2</text>
<text transform="translate(66.8 507.2) scale(1.15 1)" font-size="21" text-anchor="end" fill="#000" font-family="Liberation Sans, sans-serif" font-weight="bold">4</text>
<text transform="translate(168.6 928.3) scale(1.23 1)" font-size="16.5" text-anchor="middle" fill="#000" font-family="Liberation Sans, sans-serif" font-weight="bold">1st</text>
<text transform="translate(333.7 928.3) scale(1.28 1)" font-size="16.5" text-anchor="middle" fill="#000" font-family="Liberation Sans, sans-serif" font-weight="bold">2nd</text>
<text transform="translate(545.5 928.3) scale(1.23 1)" font-size="16.5" text-anchor="middle" fill="#000" font-family="Liberation Sans, sans-serif" font-weight="bold">3rd</text>
<text transform="translate(244.6 539.6) scale(1.21 1)" font-size="14" text-anchor="end" fill="#000" font-family="Liberation Sans, sans-serif" font-weight="bold">ZnA-3</text>
<text transform="translate(242.2 684.2) scale(1.13 1)" font-size="14" text-anchor="end" fill="#000" font-family="Liberation Sans, sans-serif" font-weight="bold">Raw</text>
<text transform="translate(242.6 791.5) scale(1.11 1)" font-size="14" text-anchor="end" fill="#000" font-family="Liberation Sans, sans-serif" font-weight="bold">CZA</text>
<text transform="translate(243.3 837.1) scale(1.13 1)" font-size="14" text-anchor="end" fill="#000" font-family="Liberation Sans, sans-serif" font-weight="bold">CuA-3</text>
<path d="M12.2,203.5 L28.3,208.6" stroke="#000" stroke-width="3"/><path d="M8.4,690.3 L27.3,699.5" stroke="#000" stroke-width="3.6"/>
<text transform="translate(0 761.2) rotate(-90) translate(-1.23 27.1) scale(0.1830 0.2820)" font-size="100" font-family="Liberation Sans, sans-serif" font-weight="bold">R</text><text transform="translate(0 761.2) rotate(-90) translate(16.51 25.03) scale(0.2283 0.2017)" font-size="100" font-family="Liberation Sans, sans-serif" font-weight="bold">-</text><text transform="translate(0 761.2) rotate(-90) translate(26.32 27.1) scale(0.1909 0.2820)" font-size="100" font-family="Liberation Sans, sans-serif" font-weight="bold">R</text><text transform="translate(0 761.2) rotate(-90) translate(43.31 32.71) scale(0.1726 0.1850)" font-size="100" font-family="Liberation Sans, sans-serif" font-weight="bold">0</text><text transform="translate(0 761.2) rotate(-90) translate(52.58 26.24) scale(0.2057 0.2626)" font-size="100" font-family="Liberation Sans, sans-serif" font-weight="bold">)</text><text transform="translate(0 761.2) rotate(-90) translate(74.48 27.1) scale(0.1972 0.2820)" font-size="100" font-family="Liberation Sans, sans-serif" font-weight="bold">R</text><text transform="translate(0 761.2) rotate(-90) translate(90.54 32.71) scale(0.1642 0.1850)" font-size="100" font-family="Liberation Sans, sans-serif" font-weight="bold">0</text><text transform="translate(0 761.2) rotate(-90) translate(111.33 26.24) scale(0.2340 0.2626)" font-size="100" font-family="Liberation Sans, sans-serif" font-weight="bold">(</text><text transform="translate(0 761.2) rotate(-90) translate(120.02 26.87) scale(0.2339 0.2827)" font-size="100" font-family="Liberation Sans, sans-serif" font-weight="bold">%</text><text transform="translate(0 761.2) rotate(-90) translate(141.68 26.24) scale(0.2270 0.2626)" font-size="100" font-family="Liberation Sans, sans-serif" font-weight="bold">)</text>
<text transform="translate(-1.6 521.6) scale(0.99 1)" font-size="34" text-anchor="start" fill="#000" font-family="Liberation Sans, sans-serif" font-weight="bold">(b)</text>
</svg></body></html>
